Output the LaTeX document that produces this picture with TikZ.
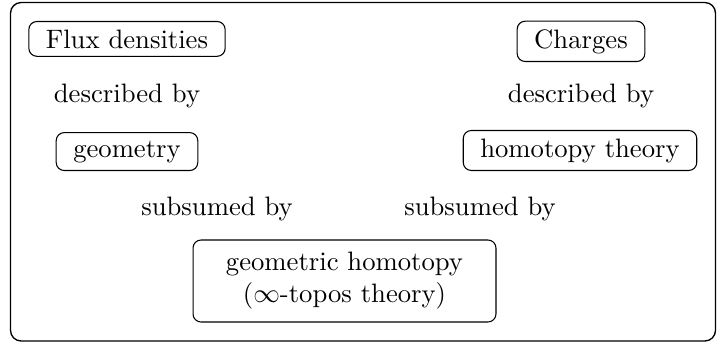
\documentclass[tikz,border=0pt]{standalone}
\begin{document}
\begin{tikzpicture}[x=0.375pt,y=-0.375pt,
  topic/.style={draw, rounded corners=3pt, inner xsep=6.4pt, inner ysep=3pt, anchor=base, line width=0.4pt},
  rel/.style={anchor=base, inner sep=0pt}]
\useasboundingbox (0,0) rectangle (720,344);
\draw[rounded corners=4pt, line width=0.5pt] (10.5,2.5) rectangle (715.5,341);
\node[topic] (flux) at (127,48) {Flux densities};
\node[topic] (charges) at (581,48) {Charges};
\node[rel] (descl) at (127,102) {described by};
\node[rel] (descr) at (581,102) {described by};
\node[topic] (geom) at (127,157) {geometry};
\node[topic] (homot) at (580,157) {homotopy theory};
\node[rel] (subl) at (217,215) {subsumed by};
\node[rel] (subr) at (480,215) {subsumed by};
\node[draw, rounded corners=3pt, align=center, line width=0.4pt, minimum width=113.6pt, minimum height=30.75pt, inner sep=0pt] (gh) at (344.5,281) {geometric homotopy\\($\infty$-topos theory)};
\end{tikzpicture}
\end{document}
